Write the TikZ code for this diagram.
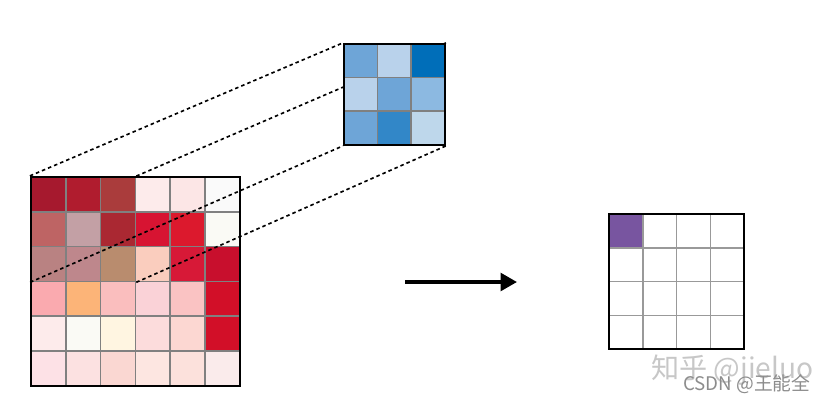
\documentclass[tikz,border=0pt]{standalone}
\usepackage{fontspec}
\newfontfamily\cjk{Noto Sans CJK SC}
\usetikzlibrary{arrows.meta}
\pgfdeclarelayer{front}
\pgfsetlayers{main,front}

\begin{document}
\begin{tikzpicture}[x=0.3mm, y=-0.3mm,
    incell/.style={draw=black!50, line width=1.5pt, minimum size=10.44mm, inner sep=0pt},
    kcell/.style={draw=black!50, line width=1.5pt, minimum size=10.08mm, inner sep=0pt},
    outcell/.style={draw=black!40, line width=1.4pt, minimum size=10.14mm, inner sep=0pt, fill=white},
    frame/.style={draw=black, line width=1.9pt, inner sep=0pt},
    dashline/.style={line width=1.4pt, dash pattern=on 3pt off 2.6pt},
    conv arrow/.style={line width=3.2pt, -{Triangle[length=14pt,width=15pt]}}
    ]
    \useasboundingbox (0,0) rectangle (830,403);

    % input 6x6
    \foreach \hx [count=\k from 0] in {A6192E,B01C2E,AA3C3C,FDEBEB,FCE6E6,FAFAFA,%
        BE6464,C3A0A5,AA2832,D71432,DC192D,FAFAF5,%
        B98282,BE878C,B98C6E,FACDBE,D71937,C80F2D,%
        FAAAAF,FCB478,FABEBE,FAD2D7,FAC3C3,D20F28,%
        FDEBEB,FAFAF5,FFF5E1,FCDCDC,FCD7D2,D20F28,%
        FDE1E6,FCE1E1,FAD7D2,FDE6E1,FCE1DC,FAEBEB}{
      \pgfmathtruncatemacro\r{int(\k/6)}
      \pgfmathtruncatemacro\c{mod(\k,6)}
      \definecolor{cellfill}{HTML}{\hx}
      \node[incell, fill=cellfill] (in-\r-\c) at ({31+34.8*(\c+0.5)},{177+34.8*(\r+0.5)}) {};
    }
    \node[frame, minimum size=62.64mm] (inframe) at (135.4,281.4) {};

    % kernel 3x3
    \begin{pgfonlayer}{front}
    \foreach \hx [count=\k from 0] in {6EA5D7,B9D2EB,006EB9,%
        B9D2EB,6EA5D7,8CB9E1,%
        6EA5D7,3287C8,BED7EB}{
      \pgfmathtruncatemacro\r{int(\k/3)}
      \pgfmathtruncatemacro\c{mod(\k,3)}
      \definecolor{cellfill}{HTML}{\hx}
      \node[kcell, fill=cellfill] (k-\r-\c) at ({344+33.6*(\c+0.5)},{44+33.6*(\r+0.5)}) {};
    }
    \node[frame, minimum size=30.24mm] (kframe) at (394.4,94.4) {};
    \end{pgfonlayer}

    % output 4x4
    \foreach \r in {0,...,3}{
      \foreach \c in {0,...,3}{
        \node[outcell] (out-\r-\c) at ({609+33.8*(\c+0.5)},{214+33.8*(\r+0.5)}) {};
      }
    }
    \node[outcell, fill={rgb,255:red,120;green,85;blue,160}] (out-0-0) at (625.9,230.9) {};
    \node[frame, minimum size=40.56mm] (outframe) at (676.6,281.6) {};

    \draw [dashline] (inframe.north west) -- (kframe.north west);
    \draw [dashline] (in-0-2.north east) -- (kframe.north east);
    \draw [dashline] (in-2-0.south west) -- (kframe.south west);
    \draw [dashline] (in-2-2.south east) -- (kframe.south east);

    \coordinate (arrfrom) at (405,282);
    \coordinate (arrto) at (517,282);
    \draw [conv arrow] (arrfrom) -- (arrto);

    \node[anchor=west, inner sep=0pt, text=black!22, font=\cjk\fontsize{24}{24}\selectfont] (zhihu) at (651,370) {知乎 @jieluo};
    \node[anchor=west, inner sep=0pt, text=black!45, font=\cjk\fontsize{16}{16}\selectfont] (csdn) at (683,384) {CSDN @王能全};
\end{tikzpicture}
\end{document}
